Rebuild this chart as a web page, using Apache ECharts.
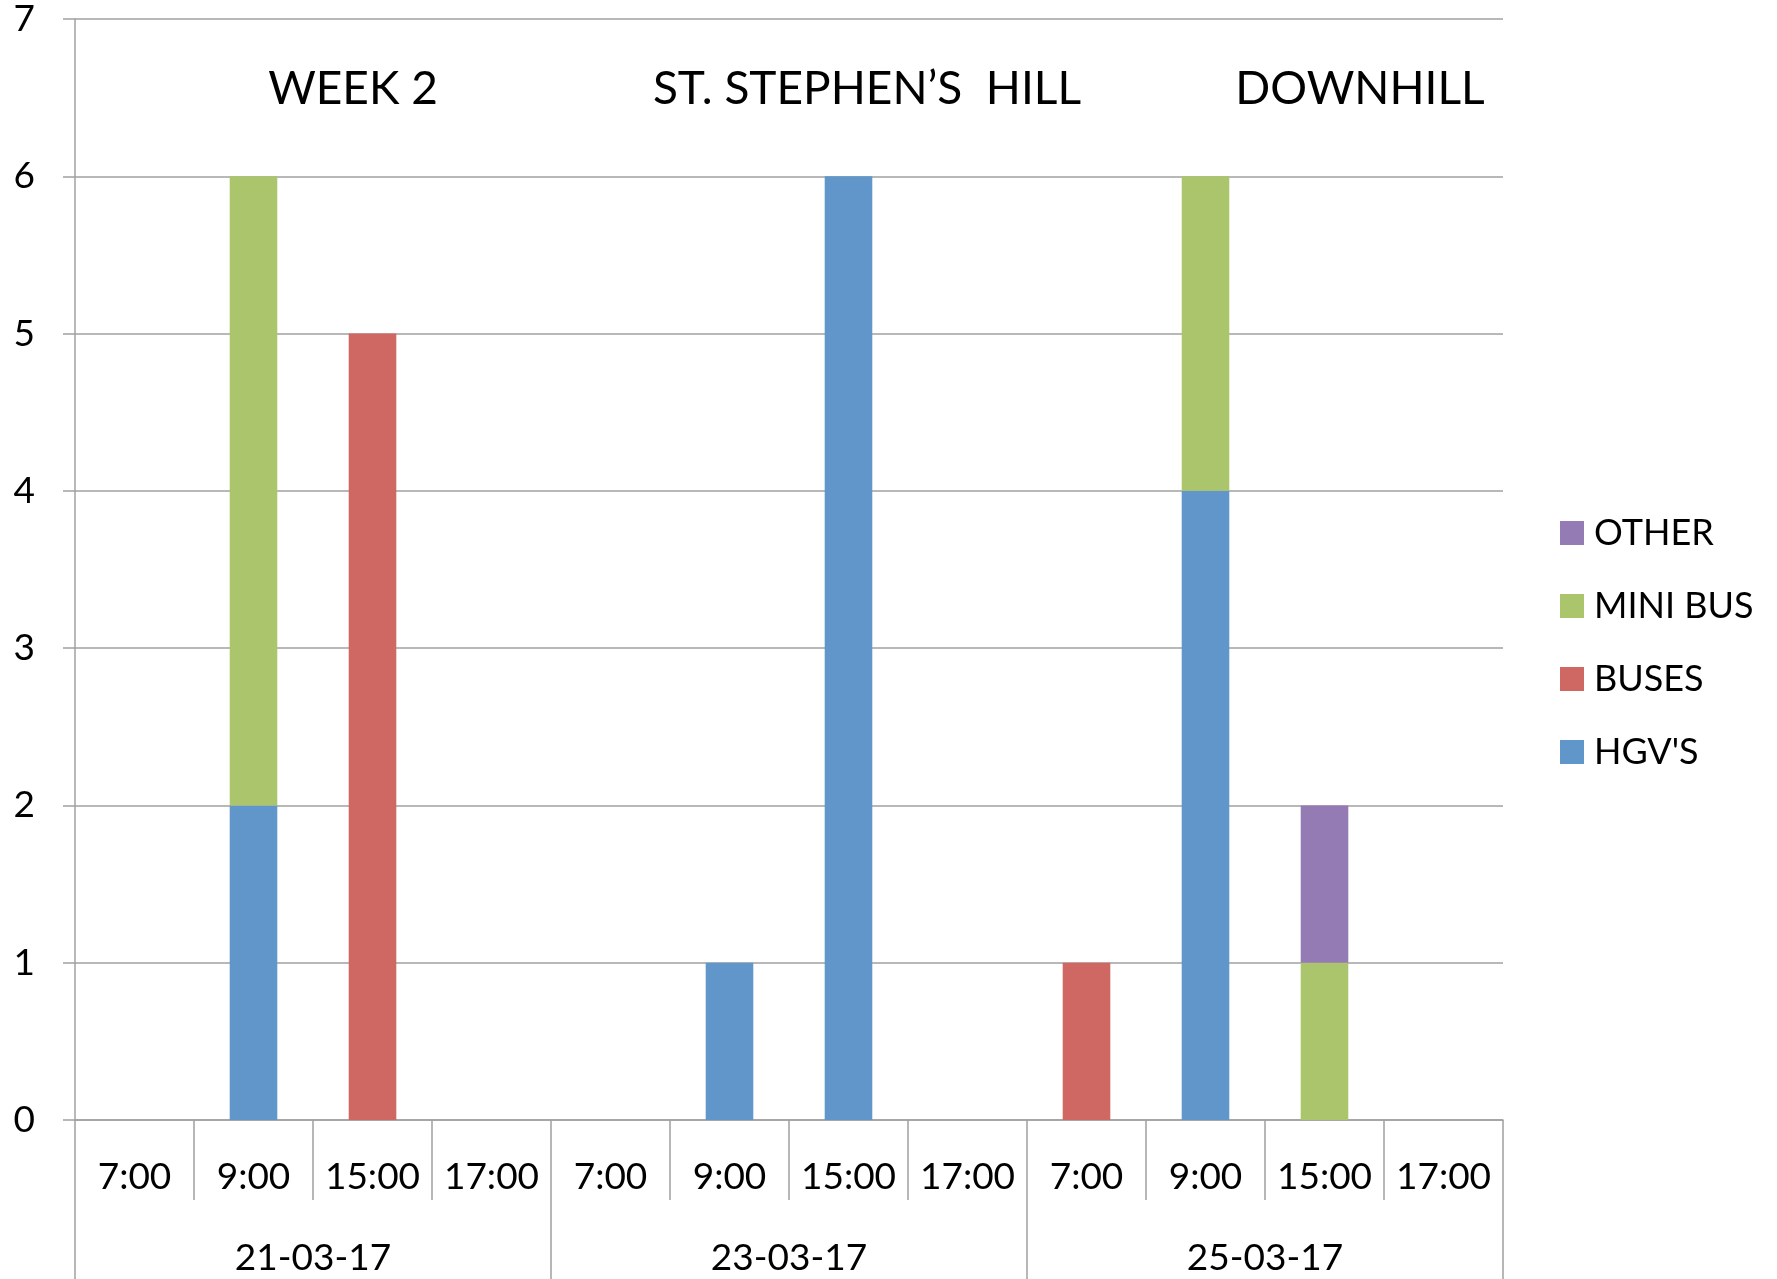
<!DOCTYPE html>
<html>
<head>
<meta charset="utf-8">
<script src="https://cdn.jsdelivr.net/npm/echarts@6/dist/echarts.min.js"></script>
<style>html,body{margin:0;padding:0;background:#fff;}#c{width:1777px;height:1279px;}</style>
</head>
<body>
<div id="c"></div>
<script>
var times = ['7:00','9:00','15:00','17:00','7:00','9:00','15:00','17:00','7:00','9:00','15:00','17:00'];
var dates = ['21-03-17','23-03-17','25-03-17'];
var hgv = [0,2,0,0, 0,1,6,0, 0,4,0,0];
var buses = [0,0,5,0, 0,0,0,0, 1,0,0,0];
var minibus = [0,4,0,0, 0,0,0,0, 0,2,1,0];
var other = [0,0,0,0, 0,0,0,0, 0,0,1,0];
var headings = ['WEEK 2', 'ST. STEPHEN\u2019S  HILL', 'DOWNHILL'];
var yTicks = [0,1,2,3,4,5,6,7];

var FONT = 'Lato';
var GRID = '#a0a0a0';
var chart = echarts.init(document.getElementById('c'), null, {renderer:'canvas'});
chart.setOption({
  animation: false,
  textStyle: {fontFamily: FONT},
  grid: {left: 75, right: 274, top: 19, bottom: 159, containLabel: false},
  legend: {
    orient: 'vertical', left: 1555, top: 508,
    itemWidth: 24, itemHeight: 24, itemGap: 33, icon: 'rect',
    data: ['OTHER','MINI BUS','BUSES',"HGV'S"],
    textStyle: {fontFamily: FONT, fontSize: 36, color: '#000', lineHeight: 40, padding: [0,0,0,5]}
  },
  xAxis: [{
    type: 'category', data: times, position: 'bottom',
    axisLine: {show: true, lineStyle: {color: GRID, width: 1.5}},
    axisTick: {show: true, interval: 0, length: 80, lineStyle: {color: GRID, width: 1.5}},
    axisLabel: {interval: 0, margin: 39, fontFamily: FONT, fontSize: 37, color: '#000'}
  }, {
    type: 'category', data: dates, position: 'bottom', offset: 0,
    axisLine: {show: false},
    axisTick: {show: true, interval: 0, length: 165, lineStyle: {color: GRID, width: 1.5}},
    axisLabel: {interval: 0, margin: 120, fontFamily: FONT, fontSize: 37, color: '#000'}
  }],
  yAxis: {
    type: 'value', min: yTicks[0], max: yTicks[yTicks.length-1], interval: 1,
    axisLine: {show: true, lineStyle: {color: GRID, width: 1.5}},
    axisTick: {show: true, length: 12, lineStyle: {color: GRID, width: 1.5}},
    splitLine: {show: true, lineStyle: {color: GRID, width: 1.5}},
    axisLabel: {margin: 40, fontFamily: FONT, fontSize: 37, color: '#000'}
  },
  graphic: [
    {type:'text', x: 353, y: 89, style: {text: headings[0], font: '46px Lato', fill: '#000', textAlign: 'center', textVerticalAlign: 'middle'}},
    {type:'text', x: 867, y: 89, style: {text: headings[1], font: '46px Lato', fill: '#000', textAlign: 'center', textVerticalAlign: 'middle'}},
    {type:'text', x: 1360, y: 89, style: {text: headings[2], font: '46px Lato', fill: '#000', textAlign: 'center', textVerticalAlign: 'middle'}}
  ],
  series: [
    {name: "HGV'S", type: 'bar', stack: 's', barWidth: '40%', data: hgv, itemStyle: {color: '#6096CA'}},
    {name: 'BUSES', type: 'bar', stack: 's', data: buses, itemStyle: {color: '#CF6762'}},
    {name: 'MINI BUS', type: 'bar', stack: 's', data: minibus, itemStyle: {color: '#ABC56D'}},
    {name: 'OTHER', type: 'bar', stack: 's', data: other, itemStyle: {color: '#957BB3'}}
  ]
});
</script>
</body>
</html>
